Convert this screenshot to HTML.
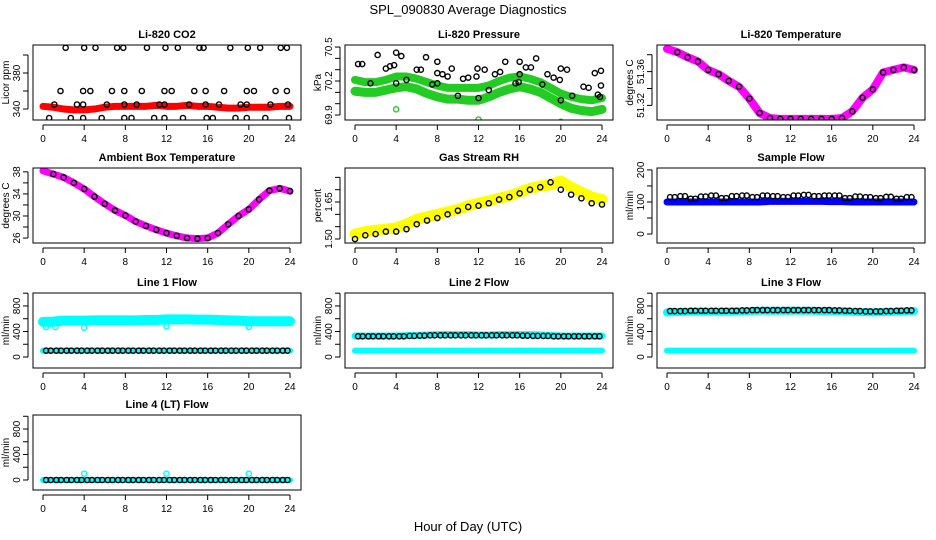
<!DOCTYPE html>
<html><head><meta charset="utf-8"><style>
body{margin:0;background:#fff;}
svg{display:block;font-family:"Liberation Sans",sans-serif;}
</style></head><body>
<svg id="c" width="936" height="540" viewBox="0 0 936 540">
<text x="468" y="14" text-anchor="middle" font-size="13">SPL_090830  Average Diagnostics</text>
<text x="468" y="531" text-anchor="middle" font-size="13">Hour of Day (UTC)</text>
</svg>
<script>
const hours = [0,1,2,3,4,5,6,7,8,9,10,11,12,13,14,15,16,17,18,19,20,21,22,23,24];
const xTicks = [0,4,8,12,16,20,24];
// CO2
const co2Band = [343,342,340,339,339,340,342,343,343,343,343,344,343,343,344,343,343,342,341,341,342,342,342,343,343];
const co2PtHours = [2.2,4.0,5.1,7.2,7.8,10.1,11.9,13.1,15.2,15.6,18.2,19.9,21.1,23.1,23.7,1.7,3.9,4.6,6.7,7.9,9.6,11.8,12.5,14.7,15.8,17.6,19.8,20.5,22.6,23.7,1.1,3.3,3.9,6.2,7.9,9.1,11.3,11.8,14.2,15.8,17.1,19.2,19.8,22.1,23.8,0.6,2.7,3.9,5.7,7.9,8.6,10.8,11.8,13.6,15.9,16.5,18.7,19.8,21.6,23.9];
const co2PtVals = [408,408,408,408,408,408,408,408,408,408,408,408,408,408,408,360,360,360,360,360,360,360,360,360,360,360,360,360,360,360,345,345,345,345,345,345,345,345,345,345,345,345,345,345,345,330,330,330,330,330,330,330,330,330,330,330,330,330,330,330];
// Pressure
const presUpper = [70.21,70.19,70.19,70.21,70.24,70.24,70.22,70.19,70.16,70.14,70.14,70.14,70.14,70.16,70.20,70.23,70.24,70.22,70.19,70.14,70.09,70.06,70.04,70.03,70.05];
const presLower = [70.11,70.10,70.10,70.12,70.14,70.15,70.13,70.09,70.06,70.04,70.04,70.03,70.03,70.06,70.10,70.13,70.15,70.13,70.10,70.05,70.00,69.96,69.94,69.93,69.95];
const presPtHours = [0.3,0.7,1.5,2.2,3.0,3.4,3.8,4.0,4.0,4.5,5.0,6.0,6.4,6.9,7.5,8.0,8.0,8.0,8.5,9.0,9.4,10.0,10.5,11.0,11.8,11.9,12.0,12.6,13.0,13.6,14.1,14.6,15.6,15.9,16.0,16.0,16.6,17.1,17.6,18.2,18.7,19.3,19.9,20.0,20.0,20.6,21.1,22.2,22.7,23.3,23.6,23.8,23.9,23.9];
const presPtVals = [70.35,70.35,70.18,70.43,70.31,70.33,70.34,70.45,70.18,70.42,70.21,70.30,70.30,70.41,70.17,70.18,70.37,70.27,70.26,70.24,70.31,70.07,70.22,70.23,70.24,70.31,70.05,70.30,70.12,70.26,70.28,70.37,70.18,70.19,70.37,70.26,70.32,70.32,70.40,70.17,70.26,70.23,70.21,70.31,70.03,70.30,70.07,70.15,70.14,70.27,70.08,70.06,70.29,70.16];
const presOutHours = [4,12,20];
const presOutVals = [69.95,69.86,69.84];
// Li-820 temperature
const liTemp = [51.387,51.383,51.377,51.372,51.362,51.357,51.349,51.342,51.328,51.311,51.305,51.304,51.304,51.304,51.304,51.304,51.304,51.305,51.313,51.329,51.339,51.359,51.362,51.365,51.362];
// Ambient
const ambTemp = [38.2,37.6,37.0,36.0,34.9,33.5,32.2,31.0,30.1,29.0,28.2,27.5,26.9,26.4,26.0,25.9,26.0,26.9,28.5,30.0,31.2,33.0,34.6,35.0,34.5];
// RH
const rhBand = [1.52,1.53,1.535,1.54,1.545,1.56,1.58,1.59,1.60,1.61,1.62,1.635,1.645,1.655,1.665,1.675,1.69,1.705,1.715,1.72,1.735,1.71,1.69,1.67,1.66];
const rhAvg = [1.50,1.515,1.52,1.53,1.53,1.54,1.56,1.575,1.585,1.60,1.615,1.63,1.635,1.645,1.66,1.67,1.685,1.70,1.71,1.73,1.70,1.68,1.665,1.645,1.64];
// Flows
const sampleBand = [100,100,100,100,100,100,100,100,100,100,102,102,102,102,102,102,101,101,100,100,100,100,100,100,100];
const sampleAvg = [115,118,110,117,120,112,118,120,115,120,118,115,120,122,118,120,120,112,117,115,112,116,110,115];
const l1High = [550,555,570,570,570,575,575,575,575,575,580,580,590,590,590,585,585,580,575,570,560,560,560,560,560];
const l1Low = [100,100,100,100,100,100,100,100,100,100,100,100,100,100,100,100,100,100,100,100,100,100,100,100,100];
const l1Avg = [100,100,100,100,100,100,100,100,100,100,100,100,100,100,100,100,100,100,100,100,100,100,100,100];
const l2High = [330,330,330,330,330,335,340,345,350,350,350,350,345,345,350,350,350,350,345,340,330,330,330,330,330];
const l2Low = [100,100,100,100,100,100,100,100,100,100,100,100,100,100,100,100,100,100,100,100,100,100,100,100,100];
const l2Avg = [325,325,325,325,325,330,335,340,340,340,340,340,340,340,340,340,335,330,330,325,325,325,325,325];
const l3High = [700,705,710,710,710,710,710,715,720,725,725,725,725,725,725,720,720,715,710,705,700,705,710,715,720];
const l3Low = [100,100,100,100,100,100,100,100,100,100,100,100,100,100,100,100,100,100,100,100,100,100,100,100,100];
const l3Avg = [720,720,725,725,725,725,725,730,735,735,735,735,735,735,735,735,730,725,720,715,715,720,725,730];
const l1OutHours = [0.3,1.2,4,12,20];
const l1OutVals = [470,470,460,480,470];
const l4Band = [0,0,0,0,0,0,0,0,0,0,0,0,0,0,0,0,0,0,0,0,0,0,0,0,0];
const l4Avg = [0,0,0,0,0,0,0,0,0,0,0,0,0,0,0,0,0,0,0,0,0,0,0,0];
const l4OutHours = [4,12,20];
const l4OutVals = [100,100,100];

const svg = document.getElementById('c');
const NS = 'http://www.w3.org/2000/svg';
function mk(tag, attrs, parent){const e=document.createElementNS(NS,tag);for(const k in attrs)e.setAttribute(k,attrs[k]);(parent||svg).appendChild(e);return e;}
const rowTop=[45,168,293,415];
function panel(col,row,title,ylab,lo,hi,ticks,labels){
  const L=33+312*col,T=rowTop[row],W=268,H=75;
  const g=mk('g',{});
  
  
  const x=h=>L+10+h*(247/24);
  const y=v=>T+H-(v-lo)/(hi-lo)*H;
  const t=mk('text',{x:L+W/2,y:T-7,'text-anchor':'middle','font-size':11,'font-weight':'bold'},g);t.textContent=title;
  
  
  const yl=mk('text',{x:0,y:0,'text-anchor':'middle','font-size':10,transform:`translate(${L-24},${T+H/2}) rotate(-90)`},g);yl.textContent=ylab;
  
  
  const ax=mk('g',{stroke:'#000','stroke-width':1},g);
  
  
  mk('line',{x1:x(0),x2:x(24),y1:T+H+5,y2:T+H+5},ax);
  xTicks.forEach(v=>{mk('line',{x1:x(v),x2:x(v),y1:T+H+5,y2:T+H+10},ax);
    const tt=mk('text',{x:x(v),y:T+H+22,'text-anchor':'middle','font-size':10,stroke:'none'},g);tt.textContent=v;
    
    });
  mk('line',{x1:L-5,x2:L-5,y1:y(ticks[0]),y2:y(ticks[ticks.length-1])},ax);
  ticks.forEach(v=>{mk('line',{x1:L-5,x2:L-10,y1:y(v),y2:y(v)},ax);});
  labels.forEach(v=>{const tt=mk('text',{x:0,y:0,'text-anchor':'middle','font-size':10,transform:`translate(${L-13},${y(+v)}) rotate(-90)`},g);tt.textContent=v;
    
    });
  const clip='clip'+col+row;
  const cp=mk('clipPath',{id:clip},g);mk('rect',{x:L,y:T,width:W,height:H},cp);
  const plot=mk('g',{'clip-path':`url(#${clip})`},g);
  mk('rect',{x:L,y:T,width:W,height:H,fill:'none',stroke:'#000'},g);
  return {x,y,plot};
}
function band(p,hs,vs,color,w,name){
  const pl=mk('polyline',{points:hs.map((h,i)=>p.x(h)+','+p.y(vs[i])).join(' '),fill:'none',stroke:color,'stroke-width':w,'stroke-linejoin':'round','stroke-linecap':'round'},p.plot);
  
  
}
function pts(p,hs,vs,color,name){
  hs.forEach((h,i)=>{const c=mk('circle',{cx:p.x(h),cy:p.y(vs[i]),r:2.6,fill:'none',stroke:color,'stroke-width':1.4},p.plot);
    
    });
}
function avgPts(p,vals,color,name){
  vals.forEach((v,i)=>{[0.3,0.75].forEach(o=>{const c=mk('circle',{cx:p.x(i+o),cy:p.y(v),r:2.6,fill:'none',stroke:color,'stroke-width':1.4},p.plot);
    
    });});
}
// CO2
let p=panel(0,0,'Li-820 CO2','Licor ppm',327.8,411.1,[340,360,380,400],['340','380']);
band(p,hours,co2Band,'#f00',7,'co2-band');pts(p,co2PtHours,co2PtVals,'#000','co2-point');
// Pressure
p=panel(1,0,'Li-820 Pressure','kPa',69.856,70.518,[69.9,70.0,70.1,70.2,70.3,70.4,70.5],['69.9','70.2','70.5']);
band(p,hours,presUpper,'#2c2',8,'pressure-band-upper');band(p,hours,presLower,'#2c2',9,'pressure-band-lower');
pts(p,presOutHours,presOutVals,'#2c2','pressure-green-outlier');pts(p,presPtHours,presPtVals,'#000','pressure-point');
// Li temp
p=panel(2,0,'Li-820 Temperature','degrees C',51.3027,51.3915,[51.32,51.34,51.36,51.38],['51.32','51.36']);
band(p,hours,liTemp,'#f0f',8,'li-temp-band');pts(p,hours.slice(1),liTemp.slice(1),'#000','li-temp-point');
// Ambient
p=panel(0,1,'Ambient Box Temperature','degrees C',25.1,38.7,[26,28,30,32,34,36,38],['26','30','34','38']);
band(p,hours,ambTemp,'#f0f',7,'ambient-band');pts(p,hours.slice(1),ambTemp.slice(1),'#000','ambient-point');
// RH
p=panel(1,1,'Gas Stream RH','percent',1.4838,1.788,[1.50,1.55,1.60,1.65,1.70,1.75],['1.50','1.65']);
band(p,hours,rhBand,'#ff0',11,'rh-band');pts(p,hours,rhAvg,'#000','rh-point');
// Sample flow
p=panel(2,1,'Sample Flow','ml/min',-28,206,[0,50,100,150,200],['0','100','200']);
band(p,hours,sampleBand,'#00f',7,'sample-band');avgPts(p,sampleAvg,'#000','sample-point');
// Line 1
p=panel(0,2,'Line 1 Flow','ml/min',-172,1003,[0,200,400,600,800,1000],['0','400','800']);
band(p,hours,l1High,'#0ff',10,'line1-band-high');band(p,hours,l1Low,'#0ff',6,'line1-band-low');
pts(p,l1OutHours,l1OutVals,'#0ff','line1-outlier');avgPts(p,l1Avg,'#000','line1-point');
// Line 2
p=panel(1,2,'Line 2 Flow','ml/min',-172,1003,[0,200,400,600,800,1000],['0','400','800']);
band(p,hours,l2High,'#0ff',7,'line2-band-high');band(p,hours,l2Low,'#0ff',6,'line2-band-low');avgPts(p,l2Avg,'#000','line2-point');
// Line 3
p=panel(2,2,'Line 3 Flow','ml/min',-172,1003,[0,200,400,600,800,1000],['0','400','800']);
band(p,hours,l3High,'#0ff',8,'line3-band-high');band(p,hours,l3Low,'#0ff',6,'line3-band-low');avgPts(p,l3Avg,'#000','line3-point');
// Line 4
p=panel(0,3,'Line 4 (LT) Flow','ml/min',-157,1020,[0,200,400,600,800,1000],['0','400','800']);
band(p,hours,l4Band,'#0ff',6,'line4-band');pts(p,l4OutHours,l4OutVals,'#0ff','line4-outlier');avgPts(p,l4Avg,'#000','line4-point');
</script>
</body></html>
